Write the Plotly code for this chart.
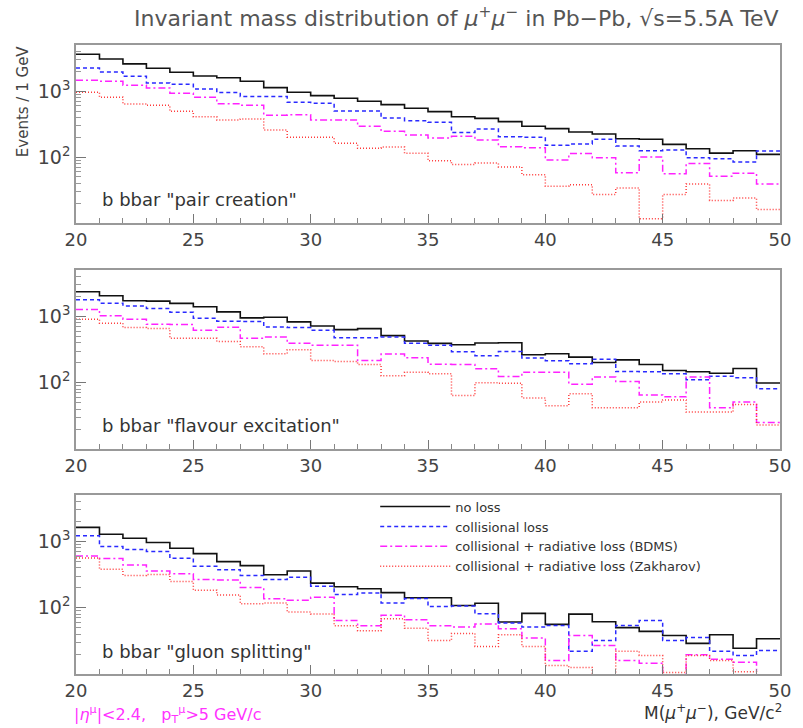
import plotly.graph_objects as go

# ---------------- data ----------------
edges = list(range(20, 51))  # 1 GeV bins from 20 to 50

series_names = [
    "no loss",
    "collisional loss",
    "collisional + radiative loss (BDMS)",
    "collisional + radiative loss (Zakharov)",
]

panel_labels = [
    'b bbar "pair creation"',
    'b bbar "flavour excitation"',
    'b bbar "gluon splitting"',
]

# panel 1: pair creation
p1_noloss = [3630, 3080, 2590, 2220, 1930, 1700, 1600, 1410, 1130, 960,
             855, 780, 703, 624, 550, 489, 410, 387, 345, 293,
             270, 240, 224, 190, 186, 156, 134, 115, 125, 110]
p1_coll = [2250, 1950, 1680, 1330, 1270, 1080, 950, 826, 826, 678,
           655, 501, 501, 390, 357, 337, 235, 267, 204, 200,
           151, 158, 186, 147, 125, 128, 98, 94, 84, 124]
p1_bdms = [1460, 1410, 1230, 1120, 930, 808, 646, 611, 430, 440,
           366, 366, 293, 246, 216, 195, 207, 182, 144, 139,
           90, 113, 98, 58, 100, 56, 80, 51, 57, 39]
p1_zak = [962, 808, 640, 611, 496, 410, 366, 379, 258, 200,
          200, 162, 136, 142, 114, 88, 77, 81, 71, 54,
          36, 38, 27, 34, 11.6, 27, 39, 22, 24, 16]

# panel 2: flavour excitation
p2_noloss = [2355, 2050, 1720, 1700, 1570, 1400, 1170, 950, 973, 826,
             718, 632, 655, 513, 425, 392, 374, 396, 401, 264,
             273, 243, 202, 221, 188, 153, 146, 139, 164, 99]
p2_coll = [1780, 1585, 1440, 1318, 1160, 940, 845, 836, 693, 678,
           617, 478, 478, 489, 392, 366, 293, 255, 296, 235,
           214, 193, 226, 147, 146, 136, 111, 125, 119, 81]
p2_bdms = [1270, 1020, 908, 762, 755, 617, 686, 468, 489, 392,
           366, 366, 216, 270, 238, 190, 188, 162, 124, 144,
           144, 95, 122, 104, 65, 61.5, 122, 42, 51, 25]
p2_zak = [908, 789, 678, 655, 467, 467, 420, 349, 273, 314,
          216, 209, 188, 127, 144, 137, 64, 100, 98, 59,
          45, 68, 42, 42, 51, 55, 36, 36, 47, 23]

# panel 3: gluon splitting
p3_noloss = [1625, 1285, 1118, 962, 788, 655, 495, 431, 314, 357,
             235, 207, 193, 169, 141, 141, 108, 117, 61, 82,
             56, 80, 61.5, 50, 44, 38, 29, 39, 24.5, 34]
p3_coll = [1213, 836, 754, 703, 556, 421, 374, 307, 267, 289,
           211, 158, 166, 118, 138, 104, 106, 81, 59, 51,
           54, 22, 32, 54, 64, 32, 35.5, 22, 19, 22.6]
p3_bdms = [603, 550, 440, 357, 326, 267, 261, 202, 137, 130,
           144, 64, 53.5, 77, 66, 53.5, 51, 57, 48, 35,
           16, 38, 27, 16, 14.5, 5, 19.6, 16.7, 15, 5]
p3_zak = [562, 379, 307, 318, 249, 184, 156, 115, 118, 86,
          80.5, 53.5, 45, 68, 49, 32, 41, 26, 39, 26,
          13.4, 12.5, 5, 22, 19, 10.5, 19, 16, 10.8, 5]

x_major_ticks = [20, 25, 30, 35, 40, 45, 50]
y_major_ticks = [100, 1000]
y_major_text = ["10<sup>2</sup>", "10<sup>3</sup>"]
y_minor_ticks = [20, 30, 40, 50, 60, 70, 80, 90,
                 200, 300, 400, 500, 600, 700, 800, 900,
                 2000, 3000, 4000, 5000]

panels = [
    [p1_noloss, p1_coll, p1_bdms, p1_zak],
    [p2_noloss, p2_coll, p2_bdms, p2_zak],
    [p3_noloss, p3_coll, p3_bdms, p3_zak],
]

# ---------------- styles ----------------
styles = [
    dict(color="#111111", dash="solid", width=1.6),
    dict(color="#2a2aff", dash="4px,3px", width=1.5),
    dict(color="#ff22ff", dash="7px,3px,2px,3px", width=1.5),
    dict(color="#ff3a3a", dash="1px,2px", width=1.5),
]
FONT = "DejaVu Sans"
domains = [[0.717, 1.0], [0.3577, 0.6423], [0.0, 0.2846]]

fig = go.Figure()
for pi, series in enumerate(panels):
    ax = "" if pi == 0 else str(pi + 1)
    for si, vals in enumerate(series):
        fig.add_trace(go.Scatter(
            x=edges, y=list(vals) + [vals[-1]],
            mode="lines", line=dict(shape="hv", **styles[si]),
            name=series_names[si],
            showlegend=(pi == 2),
            xaxis="x" + ax, yaxis="y" + ax,
            hoverinfo="skip",
        ))

layout = dict(
    width=803, height=728,
    margin=dict(l=76, r=12, t=45, b=54),
    paper_bgcolor="white", plot_bgcolor="white",
    font=dict(family=FONT, color="#444"),
    legend=dict(x=0.425, y=0.29, xanchor="left", yanchor="top",
                bgcolor="rgba(0,0,0,0)", font=dict(size=13, color="#333", family=FONT),
                itemwidth=70, tracegroupgap=0),
)
for pi in range(3):
    ax = "" if pi == 0 else str(pi + 1)
    layout["xaxis" + ax] = dict(
        domain=[0, 1], anchor="y" + ax, range=[20, 50],
        tickvals=x_major_ticks, ticks="inside", ticklen=9, tickcolor="#777",
        minor=dict(dtick=1, ticks="inside", ticklen=5, tickcolor="#888"),
        showline=True, linecolor="#999", linewidth=1.5, mirror=True,
        showgrid=False, zeroline=False,
        tickfont=dict(size=18, color="#444", family=FONT),
    )
    layout["yaxis" + ax] = dict(
        domain=domains[pi], anchor="x" + ax, type="log", range=[1, 3.7],
        tickvals=y_major_ticks, ticktext=y_major_text,
        ticks="inside", ticklen=10, tickcolor="#777",
        minor=dict(tickvals=y_minor_ticks, ticks="inside", ticklen=5, tickcolor="#999"),
        showline=True, linecolor="#999", linewidth=1.5, mirror=True,
        showgrid=False, zeroline=False,
        tickfont=dict(size=19, color="#444", family=FONT),
    )
fig.update_layout(**layout)

annotations = [
    dict(text="Invariant mass distribution of <i>μ</i><sup>+</sup><i>μ</i><sup>−</sup> in Pb−Pb, √s=5.5A TeV",
         xref="paper", yref="paper", x=0.54, y=1.045, xanchor="center", yanchor="middle",
         showarrow=False, font=dict(size=22, color="#555", family=FONT)),
    dict(text="Events / 1 GeV", xref="paper", yref="paper", x=-0.075, y=0.911,
         textangle=-90, xanchor="center", yanchor="middle", showarrow=False,
         font=dict(size=15, color="#444", family=FONT)),
    dict(text="M(<i>μ</i><sup>+</sup><i>μ</i><sup>−</sup>), GeV/c<sup>2</sup>",
         xref="paper", yref="paper", x=1.006, y=-0.061, xanchor="right", yanchor="middle",
         showarrow=False, font=dict(size=17, color="#333", family=FONT)),
    dict(text="|<i>η</i><sup>μ</sup>|<2.4,   p<sub>T</sub><sup>μ</sup>>5 GeV/c",
         xref="paper", yref="paper", x=-0.005, y=-0.064, xanchor="left", yanchor="middle",
         showarrow=False, font=dict(size=16, color="#ff33ff", family=FONT)),
]
label_y = [0.13, 0.134, 0.123]
for pi in range(3):
    ax = "" if pi == 0 else str(pi + 1)
    annotations.append(dict(
        text=panel_labels[pi], xref=("x" + ax + " domain"), yref=("y" + ax + " domain"),
        x=0.034, y=label_y[pi], xanchor="left", yanchor="middle", showarrow=False,
        font=dict(size=18, color="#333", family=FONT)))
fig.update_layout(annotations=annotations)

fig.write_html("out.html")
